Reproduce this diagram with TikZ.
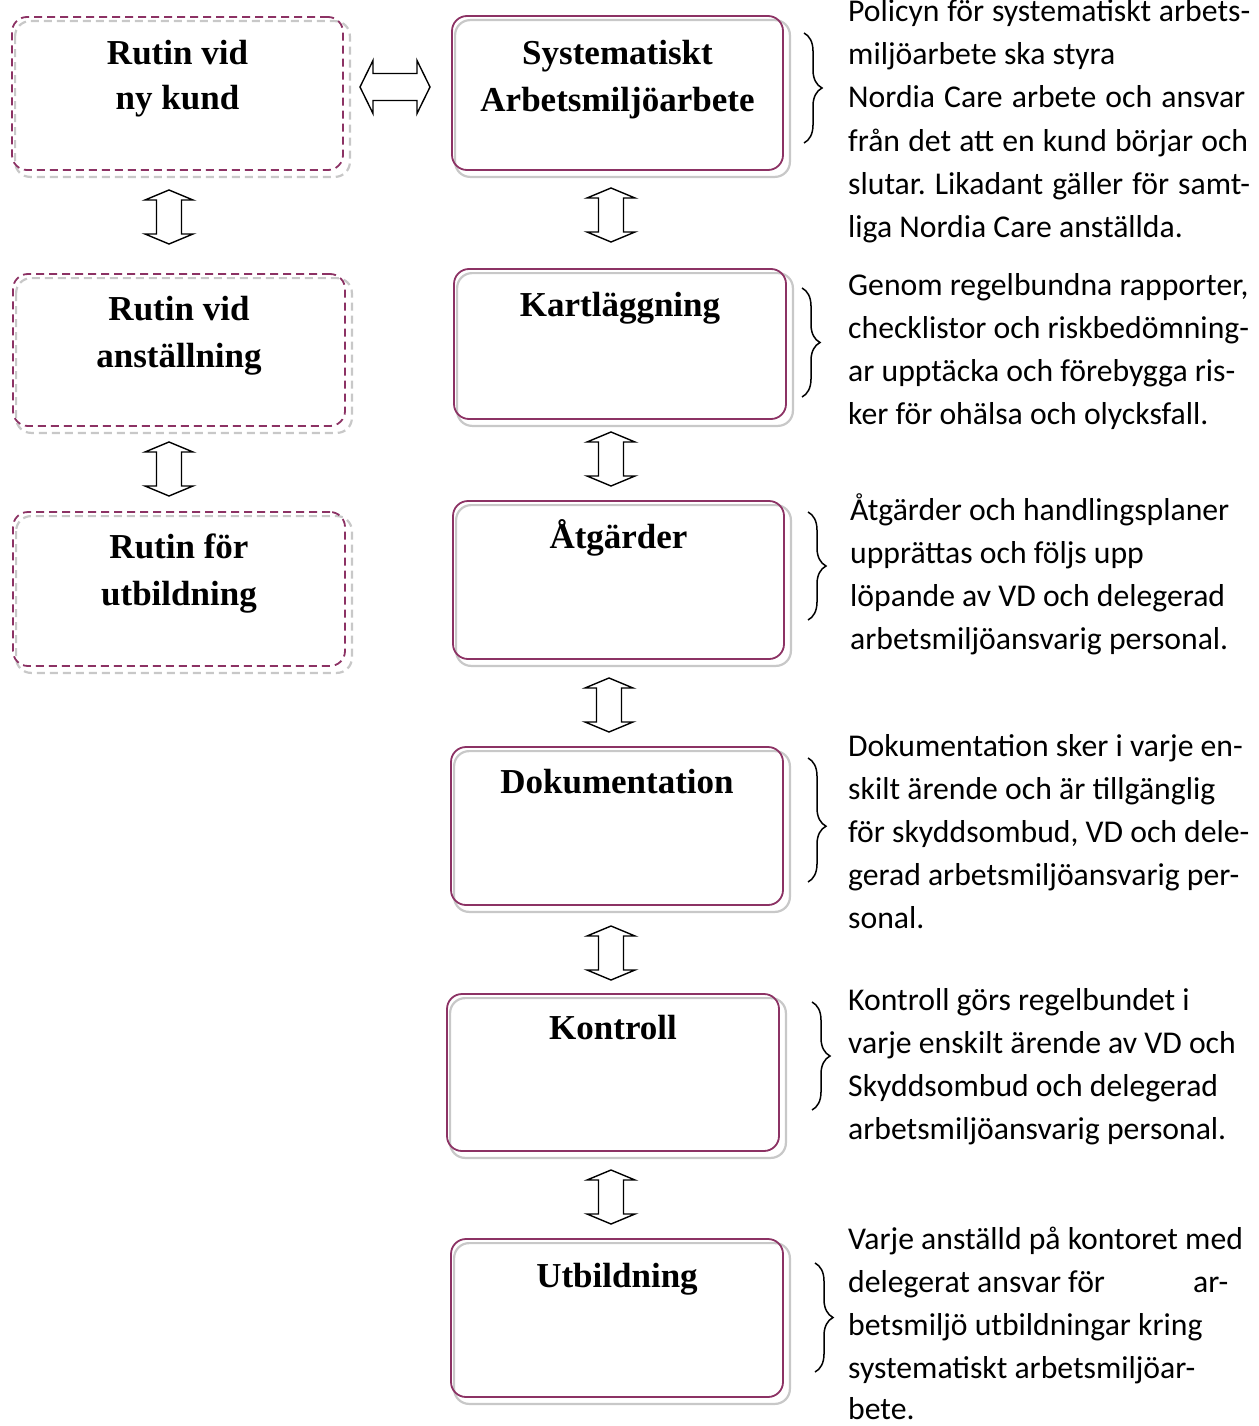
\documentclass[tikz,border=0pt]{standalone}
\usepackage{fontspec}
\setmainfont{Liberation Serif}
\newfontfamily\bodyfont{Carlito}
\usetikzlibrary{decorations.pathreplacing,backgrounds}
\definecolor{plum}{RGB}{140,50,100}
\definecolor{shade}{RGB}{200,200,200}
\tikzset{
  box/.style={draw=plum, line width=1.8pt, rounded corners=15pt, inner sep=0pt},
  dbox/.style={box, dash pattern=on 8pt off 5pt},
  shadowline/.style={draw=shade, line width=2.2pt, rounded corners=15pt},
  dshadow/.style={shadowline, dash pattern=on 8pt off 5pt},
  title/.style={font=\fontsize{35}{45}\selectfont\bfseries, anchor=base, inner sep=0pt},
  desc/.style={font=\bodyfont\fontsize{31.7}{43}\selectfont, anchor=base west, inner sep=0pt},
  blockarrow/.style={draw=black, line width=1.4pt, fill=white, line join=miter},
  bracestyle/.style={decorate, decoration={brace, amplitude=18pt, aspect=#1}, line width=1.5pt},
  bracestyle/.default=0.5,
  vdarr/.pic={\path[blockarrow] (0,-27) -- (24,-17) -- (12.5,-17) -- (12.5,17) -- (24,17) -- (0,27) -- (-24,17) -- (-12.5,17) -- (-12.5,-17) -- (-24,-17) -- cycle;},
  hdarr/.pic={\path[blockarrow] (-35,0) -- (-22,-26.5) -- (-22,-13.5) -- (22,-13.5) -- (22,-26.5) -- (35,0) -- (22,26.5) -- (22,13.5) -- (-22,13.5) -- (-22,26.5) -- cycle;},
}
\frenchspacing
\begin{document}
\begin{tikzpicture}[x=1pt,y=-1pt]
\useasboundingbox (0,0) rectangle (1258,1426);

% left column (dashed)
\node[dbox, minimum width=331pt, minimum height=153pt] (L1) at (177.5,93.5) {};
\node[dbox, minimum width=332pt, minimum height=152pt] (L2) at (179,350) {};
\node[dbox, minimum width=332pt, minimum height=154pt] (L3) at (179,589) {};

% centre column
\node[box, minimum width=331pt, minimum height=154pt] (C1) at (617.5,93) {};
\node[box, minimum width=332pt, minimum height=150pt] (C2) at (620,344) {};
\node[box, minimum width=331pt, minimum height=158pt] (C3) at (618.5,580) {};
\node[box, minimum width=332pt, minimum height=158pt] (C4) at (617,826) {};
\node[box, minimum width=332pt, minimum height=157pt] (C5) at (613,1072.5) {};
\node[box, minimum width=332pt, minimum height=158pt] (C6) at (617,1318) {};

\begin{scope}[on background layer]
  \fill[white] (0,0) rectangle (1258,1426);
  \foreach \n in {L1,L2,L3}
    \draw[dshadow] ([shift={(4,5)}]\n.north west) rectangle ([shift={(6,6)}]\n.south east);
  \foreach \n in {C1,C2,C3,C4,C5,C6}
    \draw[shadowline] ([shift={(4,5)}]\n.north west) rectangle ([shift={(6,6)}]\n.south east);
\end{scope}

% titles
\node[title] (tL1a) at (177.5,65) {Rutin vid};
\node[title] (tL1b) at (177.5,110) {ny kund};
\node[title] (tL2a) at (179,320) {Rutin vid};
\node[title] (tL2b) at (179,367) {anställning};
\node[title] (tL3a) at (179,558) {Rutin för};
\node[title] (tL3b) at (179,605) {utbildning};
\node[title] (tC1a) at (617.5,65) {Systematiskt};
\node[title] (tC1b) at (617.5,112) {Arbetsmiljöarbete};
\node[title] (tC2) at (620,316) {Kartläggning};
\node[title] (tC3) at (618.5,548) {Åtgärder};
\node[title] (tC4) at (617,793) {Dokumentation};
\node[title] (tC5) at (613,1039) {Kontroll};
\node[title] (tC6) at (617,1287) {Utbildning};

% block arrows
\pic (aH) at (395,87) {hdarr};
\pic (aL1) at (169,217) {vdarr};
\pic (aL2) at (169,469) {vdarr};
\pic (aC1) at (611,215) {vdarr};
\pic (aC2) at (611,459) {vdarr};
\pic (aC3) at (609,705) {vdarr};
\pic (aC4) at (611,953) {vdarr};
\pic (aC5) at (611,1197) {vdarr};

% braces
\coordinate (b1t) at (804,33);   \coordinate (b1b) at (804,143);
\coordinate (b2t) at (802,288);  \coordinate (b2b) at (802,397);
\coordinate (b3t) at (808,512);  \coordinate (b3b) at (808,620);
\coordinate (b4t) at (808,758);  \coordinate (b4b) at (808,882);
\coordinate (b5t) at (812,1002); \coordinate (b5b) at (812,1110);
\coordinate (b6t) at (815,1263); \coordinate (b6b) at (815,1372);
\draw[bracestyle] (b1t) -- (b1b);
\draw[bracestyle] (b2t) -- (b2b);
\draw[bracestyle] (b3t) -- (b3b);
\draw[bracestyle=0.55] (b4t) -- (b4b);
\draw[bracestyle] (b5t) -- (b5b);
\draw[bracestyle] (b6t) -- (b6b);

% descriptions
\node[desc] (d1a) at (848,22)  {\hbox to 402pt{Policyn för systematiskt arbets-}};
\node[desc] (d1b) at (848,65)  {miljöarbete ska styra};
\node[desc] (d1c) at (848,108) {\hbox to 397pt{Nordia Care arbete och ansvar}};
\node[desc] (d1d) at (848,151) {\hbox to 400pt{från det att en kund börjar och}};
\node[desc] (d1e) at (848,194) {\hbox to 402pt{slutar. Likadant gäller för samt-}};
\node[desc] (d1f) at (848,237) {liga Nordia Care anställda.};

\node[desc] (d2a) at (848,295) {Genom regelbundna rapporter,};
\node[desc] (d2b) at (848,338) {checklistor och riskbedömning-};
\node[desc] (d2c) at (848,381) {ar upptäcka och förebygga ris-};
\node[desc] (d2d) at (848,424) {ker för ohälsa och olycksfall.};

\node[desc] (d3a) at (850,520) {Åtgärder och handlingsplaner};
\node[desc] (d3b) at (850,563) {upprättas och följs upp};
\node[desc] (d3c) at (850,606) {löpande av VD och delegerad};
\node[desc] (d3d) at (850,649) {arbetsmiljöansvarig personal.};

\node[desc] (d4a) at (848,756) {Dokumentation sker i varje en-};
\node[desc] (d4b) at (848,799) {skilt ärende och är tillgänglig};
\node[desc] (d4c) at (848,842) {för skyddsombud, VD och dele-};
\node[desc] (d4d) at (848,885) {gerad arbetsmiljöansvarig per-};
\node[desc] (d4e) at (848,928) {sonal.};

\node[desc] (d5a) at (848,1010) {Kontroll görs regelbundet i};
\node[desc] (d5b) at (848,1053) {varje enskilt ärende av VD och};
\node[desc] (d5c) at (848,1096) {Skyddsombud och delegerad};
\node[desc] (d5d) at (848,1139) {arbetsmiljöansvarig personal.};

\node[desc] (d6a) at (848,1249) {Varje anställd på kontoret med};
\node[desc] (d6b) at (848,1292) {\hbox to 380pt{delegerat ansvar för\hfill ar-}};
\node[desc] (d6c) at (848,1335) {betsmiljö utbildningar kring};
\node[desc] (d6d) at (848,1378) {systematiskt arbetsmiljöar-};
\node[desc] (d6e) at (848,1419) {bete.};
\end{tikzpicture}
\end{document}
